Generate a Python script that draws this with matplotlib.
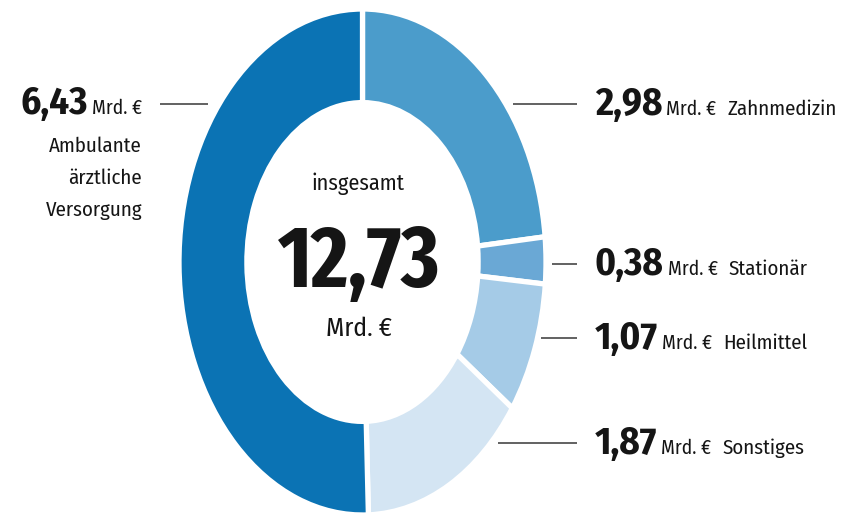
import matplotlib
matplotlib.use('Agg')
import matplotlib.pyplot as plt
from matplotlib import font_manager as fm

# ---------------- data ----------------
categories = ['Zahnmedizin', 'Stationär', 'Heilmittel', 'Sonstiges',
              'Ambulante\närztliche\nVersorgung']
values = [2.98, 0.38, 1.07, 1.87, 6.43]
unit = 'Mrd. €'
total_caption = 'insgesamt'

colors = ['#4b9ccb', '#6aa8d5', '#a5cbe7', '#d4e5f3', '#0b73b4']

def fmt(v):
    return f"{v:.2f}".replace('.', ',')

names = {f.name for f in fm.fontManager.ttflist}

def pick(cands):
    for c in cands:
        if c in names:
            return c
    return 'DejaVu Sans'

FONT = pick(['Fira Sans Condensed', 'PT Sans Narrow', 'Roboto Condensed',
             'Fira Sans Extra Condensed', 'Archivo Narrow', 'Asap Condensed'])
BIGFONT = pick(['Fira Sans Extra Condensed', 'Fira Sans Condensed', 'Roboto Condensed'])
plt.rcParams['font.family'] = [FONT, 'DejaVu Sans']

W, H = 843, 514
fig = plt.figure(figsize=(W / 100, H / 100), dpi=100)

# donut (elliptical, as in reference)
x0, x1, y0, y1 = 179, 546, 9, 515
ax = fig.add_axes([x0 / W, 1 - y1 / H, (x1 - x0) / W, (y1 - y0) / H])
ax.pie(values, colors=colors, startangle=90, counterclock=False, radius=1,
       wedgeprops=dict(width=0.37, edgecolor='white', linewidth=3.8))
ax.set_aspect('auto')
ax.set_xlim(-1, 1)
ax.set_ylim(-1, 1)
ax.axis('off')

# text layer in pixel coordinates
tx = fig.add_axes([0, 0, 1, 1], zorder=5)
tx.set_xlim(0, W)
tx.set_ylim(H, 0)
tx.axis('off')
tx.patch.set_alpha(0)

TXT = '#151515'
LINE = '#555555'
NUM_SIZE = 28
UNIT_SIZE = 14
CAT_SIZE = 15

fig.canvas.draw()
renderer = fig.canvas.get_renderer()

def width_px(t):
    return t.get_window_extent(renderer).width

# right-hand labels: (value index, baseline y, leader x start)
right_layout = [(0, 115, 513), (1, 275, 552), (2, 349, 541), (3, 454, 498)]
line_end = 577
for idx, yb, lx in right_layout:
    yl = yb - 11
    tx.plot([lx, line_end], [yl, yl], color=LINE, lw=1.3, solid_capstyle='butt')
    xs = 595
    t1 = tx.text(xs, yb, fmt(values[idx]), fontsize=NUM_SIZE, fontweight='bold',
                 color=TXT, ha='left', va='baseline')
    xs += width_px(t1) + 4
    t2 = tx.text(xs, yb, unit, fontsize=UNIT_SIZE, color=TXT, ha='left', va='baseline')
    xs += width_px(t2) + 11
    tx.text(xs, yb, categories[idx], fontsize=CAT_SIZE, color=TXT,
            ha='left', va='baseline')

# left-hand label
yb = 114
tx.plot([160, 208], [yb - 10, yb - 10], color=LINE, lw=1.3, solid_capstyle='butt')
t2 = tx.text(142, yb, unit, fontsize=UNIT_SIZE, color=TXT, ha='right', va='baseline')
tx.text(142 - width_px(t2) - 4, yb, fmt(values[4]), fontsize=NUM_SIZE,
        fontweight='bold', color=TXT, ha='right', va='baseline')
for i, line in enumerate(categories[4].split('\n')):
    tx.text(142, 152 + 32 * i, line, fontsize=CAT_SIZE, color=TXT,
            ha='right', va='baseline')

# centre
tx.text(358, 190, total_caption, fontsize=16, color=TXT, ha='center', va='baseline')
tx.text(359, 287, fmt(sum(values)), fontsize=63, fontweight='bold', color=TXT,
        ha='center', va='baseline', family=[BIGFONT, 'DejaVu Sans'])
tx.text(359, 336, unit, fontsize=18.5, color=TXT, ha='center', va='baseline')

fig.savefig('out.png', dpi=100, facecolor='white')
